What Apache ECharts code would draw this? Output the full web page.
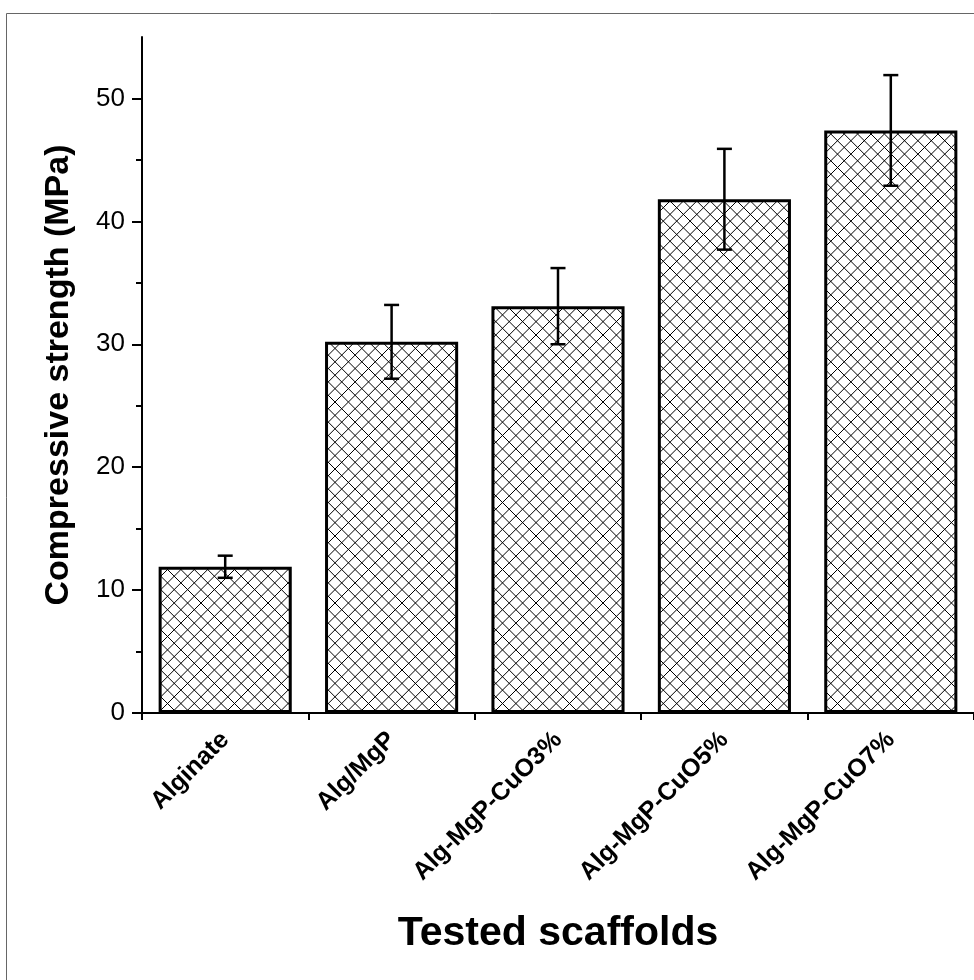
<!DOCTYPE html>
<html>
<head>
<meta charset="utf-8">
<script src="https://cdn.jsdelivr.net/npm/echarts@6/dist/echarts.min.js"></script>
<style>
html,body{margin:0;padding:0;background:#fff;}
#chart{width:974px;height:980px;}
</style>
</head>
<body>
<div id="chart"></div>
<script>
const categories = ['Alginate', 'Alg/MgP', 'Alg-MgP-CuO3%', 'Alg-MgP-CuO5%', 'Alg-MgP-CuO7%'];
const strength = [11.9, 30.2, 33.1, 41.8, 47.4];
const errors = [0.9, 3.0, 3.1, 4.1, 4.5];
const yTicks = [0, 10, 20, 30, 40, 50];
const yMinorTicks = [5, 15, 25, 35, 45];

function hatch() {
  const s = 13.4;
  const c = document.createElement('canvas');
  c.width = 134; c.height = 134;
  const ctx = c.getContext('2d');
  ctx.fillStyle = '#fff';
  ctx.fillRect(0, 0, c.width, c.height);
  ctx.strokeStyle = '#000';
  ctx.lineWidth = 1;
  ctx.beginPath();
  for (let k = -20; k <= 20; k++) {
    ctx.moveTo(k * s, 0); ctx.lineTo(k * s + 134, 134);
    ctx.moveTo(k * s, 134); ctx.lineTo(k * s + 134, 0);
  }
  ctx.stroke();
  return c;
}

const errData = strength.map((v, i) => [i, v - errors[i], v + errors[i]]);
const FONT = 'Liberation Sans, Arial, sans-serif';

const chart = echarts.init(document.getElementById('chart'), null, {renderer: 'canvas'});
chart.setOption({
  animation: false,
  backgroundColor: '#fff',
  graphic: [{
    type: 'rect', left: 4, top: 11, z: -10,
    shape: {width: 1200, height: 1200},
    style: {fill: 'none', stroke: '#666', lineWidth: 1}
  }],
  grid: {left: 142, top: 37, width: 835, height: 676, containLabel: false},
  xAxis: [{
    type: 'category', data: categories,
    axisLine: {lineStyle: {color: '#000', width: 2}},
    axisTick: {alignWithLabel: true, length: 11, lineStyle: {color: '#000', width: 2}},
    axisLabel: {rotate: 45, margin: 23, color: '#000', fontSize: 25, fontWeight: 'bold', fontFamily: FONT, interval: 0},
    name: 'Tested scaffolds', nameLocation: 'middle', nameGap: 200,
    nameTextStyle: {fontSize: 41, fontWeight: 'bold', color: '#000', fontFamily: FONT}
  }, {
    type: 'category', data: categories, position: 'bottom',
    axisLine: {show: false},
    axisTick: {show: true, length: 7, lineStyle: {color: '#000', width: 2}},
    axisLabel: {show: false}
  }],
  yAxis: [{
    type: 'value', min: 0, max: 55,
    axisLine: {show: true, lineStyle: {color: '#000', width: 2}},
    axisTick: {show: true, length: 10, customValues: yTicks, lineStyle: {color: '#000', width: 2}},
    axisLabel: {customValues: yTicks, margin: 17, color: '#000', fontSize: 26, fontFamily: FONT},
    splitLine: {show: false},
    name: 'Compressive strength (MPa)', nameLocation: 'middle', nameGap: 66,
    nameTextStyle: {fontSize: 34, fontWeight: 'bold', color: '#000', fontFamily: FONT}
  }, {
    type: 'value', min: 0, max: 55, position: 'left',
    axisLine: {show: false},
    axisTick: {show: true, length: 6, customValues: yMinorTicks, lineStyle: {color: '#000', width: 2}},
    axisLabel: {show: false},
    splitLine: {show: false}
  }],
  series: [{
    type: 'bar', data: strength, barWidth: '80%',
    itemStyle: {color: {image: hatch(), repeat: 'repeat'}, borderColor: '#000', borderWidth: 3}
  }, {
    type: 'custom', data: errData, z: 10,
    renderItem: function (params, api) {
      const x = api.value(0);
      const lo = api.coord([x, api.value(1)]);
      const hi = api.coord([x, api.value(2)]);
      const w = 7.5;
      const st = {stroke: '#000', lineWidth: 2.5};
      return {type: 'group', children: [
        {type: 'line', shape: {x1: lo[0], y1: lo[1], x2: hi[0], y2: hi[1]}, style: st},
        {type: 'line', shape: {x1: lo[0] - w, y1: lo[1], x2: lo[0] + w, y2: lo[1]}, style: st},
        {type: 'line', shape: {x1: hi[0] - w, y1: hi[1], x2: hi[0] + w, y2: hi[1]}, style: st}
      ]};
    }
  }]
});
</script>
</body>
</html>
